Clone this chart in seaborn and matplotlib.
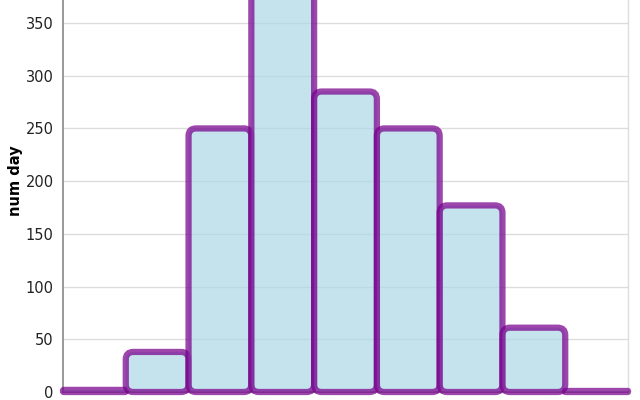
import pandas as pd
import matplotlib
matplotlib.use("Agg")
import matplotlib.pyplot as plt
import seaborn as sns
from matplotlib.patches import FancyBboxPatch

# histogram bins and counts
bin_edges = [0, 5, 10, 15, 20, 25, 30, 35, 40, 45]
num_day = [2, 38, 250, 390, 285, 250, 177, 61, 1]
y_ticks = [0, 50, 100, 150, 200, 250, 300, 350]

df = pd.DataFrame({"bin_start": bin_edges[:-1], "num_day": num_day})
df["bin_mid"] = df["bin_start"] + (bin_edges[1] - bin_edges[0]) / 2

sns.set_style("whitegrid")
plt.rcParams["font.family"] = ["DejaVu Sans"]

fill = (173 / 255, 216 / 255, 230 / 255, 0.7)
stroke = (120 / 255, 0, 140 / 255, 0.72)

fig = plt.figure(figsize=(6.4, 4), dpi=100)
# axis reaches above the top of the canvas, like the reference crop
ax = fig.add_axes([63 / 640, 8 / 400, 565 / 640, 421.7 / 400])

sns.histplot(data=df, x="bin_mid", weights="num_day", bins=bin_edges, ax=ax,
             color="lightblue", edgecolor="purple", linewidth=4.3)

ax.set_xlim(bin_edges[0], bin_edges[-1])
ax.set_ylim(0, 400)
ax.set_xticks(bin_edges)
ax.set_yticks(y_ticks)

# swap plain rectangles for rounded ones
fig.canvas.draw()
inv = ax.transData.inverted()
(x0, y0), (x1, y1) = inv.transform([(0, 0), (1, 1)])
dx_px, dy_px = x1 - x0, y1 - y0
aspect = dy_px / dx_px
for p in list(ax.patches):
    x, y, w, h = p.get_x(), p.get_y(), p.get_width(), p.get_height()
    p.remove()
    r = min(7.5 * dx_px, (h / aspect) / 2, w / 2)
    box = FancyBboxPatch((x, y), w, h,
                         boxstyle=f"round,pad=0,rounding_size={r}",
                         mutation_aspect=aspect,
                         facecolor=fill, edgecolor=stroke,
                         linewidth=4.5, clip_on=False, zorder=3)
    ax.add_patch(box)

ax.grid(False)
ax.grid(True, axis="y", color="#dddddd", linewidth=1)
ax.spines["top"].set_visible(False)
ax.spines["right"].set_color("#dddddd")
ax.spines["right"].set_linewidth(1)
for side in ["left", "bottom"]:
    ax.spines[side].set_color("#888888")
    ax.spines[side].set_linewidth(1.2)
ax.tick_params(axis="both", length=4.3, width=1, color="#888888", pad=2.5,
               labelsize=10.5, labelcolor="#222222")
ax.tick_params(axis="x", labelbottom=False)
ax.set_ylabel("num day", fontsize=10.5, fontweight="bold", color="black")
ax.yaxis.set_label_coords(-0.0708, 0.5)
ax.set_xlabel("")

fig.savefig("out.png", dpi=100)
